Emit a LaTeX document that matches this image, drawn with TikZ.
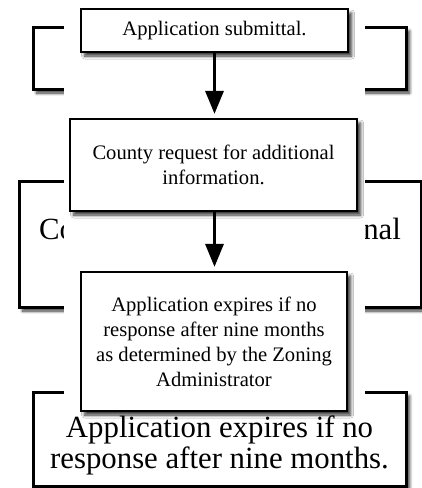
\documentclass[tikz,border=0pt]{standalone}
\usepackage{fontspec}
\setmainfont{Liberation Serif}
\usetikzlibrary{arrows.meta,shadows.blur}

\begin{document}
\begin{tikzpicture}[
		x=0.5pt, y=-0.5pt,
		soft shadow/.style={blur shadow={shadow xshift=1.8pt, shadow yshift=-2pt, shadow blur radius=1.5pt, shadow blur steps=8, shadow opacity=80}},
		step box/.style={draw=black, line width=1.1pt, fill=white, align=center, inner sep=0pt,
			font=\fontsize{10.3}{12.5}\selectfont, soft shadow},
		back box/.style={draw=black, line width=1.5pt, fill=white, inner sep=0pt, soft shadow},
		back text/.style={align=center, inner sep=0pt, font=\fontsize{15.4}{15.5}\selectfont},
		flow/.style={-{Triangle[width=9pt,length=11.5pt]}, line width=1.6pt, shorten >=2pt}
		]
		\useasboundingbox (0,0) rectangle (422,488);
		
		% Background boxes
		\node[back box, minimum width=186.5pt, minimum height=31pt] (bsubmit) at (219.5,58) {};
		\node[back box, minimum width=201pt, minimum height=63pt] (brequest) at (220,244) {};
		\node[back text] (brequesttext) at (brequest.center) {County request for additional\\information.};
		\node[back box, minimum width=186.5pt, minimum height=47pt] (bexpire) at (219.5,439) {};
		\node[back text] (bexpiretext) at ([yshift=-3.3pt]bexpire.center) {Application expires if no\\response after nine months.};
		
		% White gap round the steps
		\fill[white] (64,0) rectangle (365,415);
		
		% Steps
		\node[step box, minimum width=133.5pt, minimum height=21.5pt] (submit) at (214.5,30.5) {Application submittal.};
		\node[step box, minimum width=143.5pt, minimum height=46pt] (request) at (213.5,165) {County request for additional\\information.};
		\node[step box, minimum width=133pt, minimum height=69.5pt] (expire) at (214,341.5) {Application expires if no\\response after nine months\\as determined by the Zoning\\Administrator};
		
		\draw[flow] (submit.south) -- (submit.south |- request.north);
		\draw[flow] (submit.south |- request.south) -- (submit.south |- expire.north);
\end{tikzpicture}
\end{document}
